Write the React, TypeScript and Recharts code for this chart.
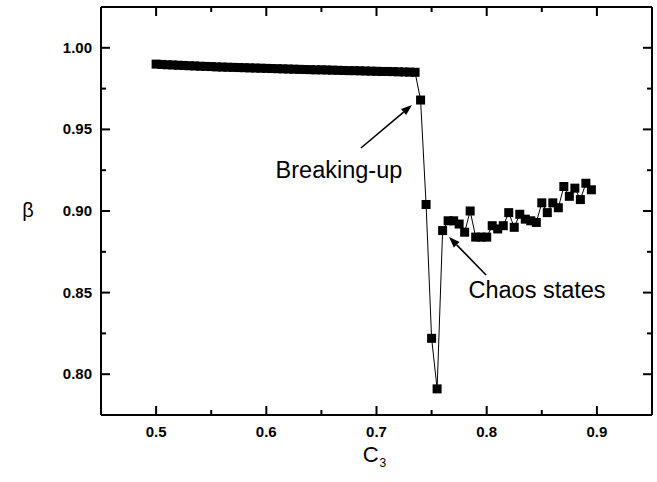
import React from 'react';
import { LineChart, Line, XAxis, YAxis, ReferenceLine } from 'recharts';

// Control parameter C3 and the measured order parameter beta
const C3_VALUES = [
  0.500, 0.505, 0.510, 0.515, 0.520, 0.525, 0.530, 0.535, 0.540, 0.545,
  0.550, 0.555, 0.560, 0.565, 0.570, 0.575, 0.580, 0.585, 0.590, 0.595,
  0.600, 0.605, 0.610, 0.615, 0.620, 0.625, 0.630, 0.635, 0.640, 0.645,
  0.650, 0.655, 0.660, 0.665, 0.670, 0.675, 0.680, 0.685, 0.690, 0.695,
  0.700, 0.705, 0.710, 0.715, 0.720, 0.725, 0.730, 0.735, 0.740, 0.745,
  0.750, 0.755, 0.760, 0.765, 0.770, 0.775, 0.780, 0.785, 0.790, 0.795,
  0.800, 0.805, 0.810, 0.815, 0.820, 0.825, 0.830, 0.835, 0.840, 0.845,
  0.850, 0.855, 0.860, 0.865, 0.870, 0.875, 0.880, 0.885, 0.890, 0.895,
];

const BETA_VALUES = [
  0.9900, 0.9898, 0.9896, 0.9895, 0.9893, 0.9892, 0.9890, 0.9889, 0.9887, 0.9886,
  0.9885, 0.9883, 0.9882, 0.9881, 0.9880, 0.9879, 0.9878, 0.9877, 0.9876, 0.9875,
  0.9874, 0.9873, 0.9872, 0.9871, 0.9870, 0.9869, 0.9868, 0.9867, 0.9866, 0.9865,
  0.9865, 0.9864, 0.9863, 0.9862, 0.9861, 0.9860, 0.9860, 0.9859, 0.9858, 0.9857,
  0.9856, 0.9855, 0.9855, 0.9854, 0.9853, 0.9852, 0.9851, 0.9850, 0.968, 0.904,
  0.822, 0.791, 0.888, 0.894, 0.894, 0.892, 0.887, 0.900, 0.884, 0.884,
  0.884, 0.891, 0.889, 0.891, 0.899, 0.890, 0.898, 0.895, 0.894, 0.893,
  0.905, 0.899, 0.905, 0.902, 0.915, 0.909, 0.914, 0.907, 0.917, 0.913,
];

const X_MAJOR_TICKS = [0.5, 0.6, 0.7, 0.8, 0.9];
const X_MINOR_TICKS = [0.55, 0.65, 0.75, 0.85];
const Y_MAJOR_TICKS = [0.8, 0.85, 0.9, 0.95, 1.0];
const Y_MINOR_TICKS = [0.825, 0.875, 0.925, 0.975];
const X_DOMAIN: [number, number] = [0.45, 0.95];
const Y_DOMAIN: [number, number] = [0.775, 1.025];

// Annotation arrows: tail and head in data coordinates
const BREAKUP_ARROW = [{ x: 0.6859, y: 0.9386 }, { x: 0.7322, y: 0.965 }];
const CHAOS_ARROW = [{ x: 0.7994, y: 0.8608 }, { x: 0.7658, y: 0.8841 }];

const data = C3_VALUES.map((c, i) => ({ c3: c, beta: BETA_VALUES[i] }));

const W = 657;
const H = 482;
const AXIS_THICK = 1;
const PLOT_TOP = 7;
const PLOT_BOTTOM = 415;
const PLOT_LEFT = 101;
const PLOT_RIGHT = 652;
const MARGIN = {
  top: PLOT_TOP - AXIS_THICK,
  right: W - PLOT_RIGHT - AXIS_THICK,
  bottom: H - PLOT_BOTTOM - AXIS_THICK,
  left: PLOT_LEFT - AXIS_THICK,
};
const MAJOR_LEN = 9;
const MINOR_LEN = 5;
const MARKER = 9;
const FONT = 'Arial, "Liberation Sans", Helvetica, sans-serif';

const inList = (v: number, list: number[]) => list.some((t) => Math.abs(t - v) < 1e-9);

const BottomTick = (props: any) => {
  const { x, payload } = props;
  const major = inList(payload.value, X_MAJOR_TICKS);
  const len = major ? MAJOR_LEN : MINOR_LEN;
  return (
    <g>
      <line x1={x} x2={x} y1={PLOT_BOTTOM} y2={PLOT_BOTTOM - len} stroke="#000" strokeWidth={2} />
      {major && (
        <text x={x} y={PLOT_BOTTOM + 22} textAnchor="middle" fontSize={15} fontWeight="bold" fontFamily={FONT} fill="#000">
          {payload.value.toFixed(1)}
        </text>
      )}
    </g>
  );
};

const TopTick = (props: any) => {
  const { x, payload } = props;
  const len = inList(payload.value, X_MAJOR_TICKS) ? MAJOR_LEN : MINOR_LEN;
  return <line x1={x} x2={x} y1={PLOT_TOP} y2={PLOT_TOP + len} stroke="#000" strokeWidth={2} />;
};

const LeftTick = (props: any) => {
  const { y, payload } = props;
  const major = inList(payload.value, Y_MAJOR_TICKS);
  const len = major ? MAJOR_LEN : MINOR_LEN;
  return (
    <g>
      <line x1={PLOT_LEFT} x2={PLOT_LEFT + len} y1={y} y2={y} stroke="#000" strokeWidth={2} />
      {major && (
        <text x={PLOT_LEFT - 9} y={y + 5} textAnchor="end" fontSize={15} fontWeight="bold" fontFamily={FONT} fill="#000">
          {payload.value.toFixed(2)}
        </text>
      )}
    </g>
  );
};

const RightTick = (props: any) => {
  const { y, payload } = props;
  const len = inList(payload.value, Y_MAJOR_TICKS) ? MAJOR_LEN : MINOR_LEN;
  return <line x1={PLOT_RIGHT} x2={PLOT_RIGHT - len} y1={y} y2={y} stroke="#000" strokeWidth={2} />;
};

const SquareDot = (props: any) => {
  const { cx, cy, index } = props;
  if (cx == null || cy == null) return <g key={index} />;
  return <rect key={index} x={cx - MARKER / 2} y={cy - MARKER / 2} width={MARKER} height={MARKER} fill="#000" />;
};

const makeArrow = (label: string, dx: number, dy: number) => (props: any) => {
  const { x1, y1, x2, y2 } = props;
  const ang = Math.atan2(y2 - y1, x2 - x1);
  const headLen = 11;
  const halfW = 4;
  const bx = x2 - headLen * Math.cos(ang);
  const by = y2 - headLen * Math.sin(ang);
  const px = -Math.sin(ang) * halfW;
  const py = Math.cos(ang) * halfW;
  return (
    <g>
      <line x1={x1} y1={y1} x2={bx} y2={by} stroke="#000" strokeWidth={1.6} />
      <polygon points={`${x2},${y2} ${bx + px},${by + py} ${bx - px},${by - py}`} fill="#000" />
      <text x={x1 + dx} y={y1 + dy} textAnchor="middle" fontSize={23.5} fontFamily={FONT} fill="#000">
        {label}
      </text>
    </g>
  );
};

const XTitle = () => {
  const cx = (PLOT_LEFT + PLOT_RIGHT) / 2;
  return (
    <text x={cx - 2} y={PLOT_BOTTOM + 47} textAnchor="middle" fontSize={22} fontFamily={FONT} fill="#000">
      C
      <tspan fontSize={12} dx={1} dy={5}>3</tspan>
    </text>
  );
};

const YTitle = () => (
  <text x={28} y={(PLOT_TOP + PLOT_BOTTOM) / 2 + 6} textAnchor="middle" fontSize={20} fontFamily={FONT} fill="#000">
    β
  </text>
);

export default function App() {
  return (
    <div style={{ position: 'absolute', left: 0, top: 0, width: W, height: H, background: '#fff' }}>
      <LineChart width={W} height={H} data={data} margin={MARGIN}>
        <XAxis
          dataKey="c3"
          type="number"
          domain={X_DOMAIN}
          allowDataOverflow
          ticks={[...X_MAJOR_TICKS, ...X_MINOR_TICKS]}
          interval={0}
          height={AXIS_THICK}
          tickSize={0}
          tickMargin={0}
          tickLine={false}
          axisLine={{ stroke: '#000', strokeWidth: 2 }}
          tick={<BottomTick />}
          label={<XTitle />}
        />
        <XAxis
          xAxisId="top"
          orientation="top"
          dataKey="c3"
          type="number"
          domain={X_DOMAIN}
          allowDataOverflow
          ticks={[...X_MAJOR_TICKS, ...X_MINOR_TICKS]}
          interval={0}
          height={AXIS_THICK}
          tickSize={0}
          tickMargin={0}
          tickLine={false}
          axisLine={{ stroke: '#000', strokeWidth: 2 }}
          tick={<TopTick />}
        />
        <YAxis
          type="number"
          domain={Y_DOMAIN}
          allowDataOverflow
          ticks={[...Y_MAJOR_TICKS, ...Y_MINOR_TICKS]}
          interval={0}
          width={AXIS_THICK}
          tickSize={0}
          tickMargin={0}
          tickLine={false}
          axisLine={{ stroke: '#000', strokeWidth: 2 }}
          tick={<LeftTick />}
          label={<YTitle />}
        />
        <YAxis
          yAxisId="right"
          orientation="right"
          type="number"
          domain={Y_DOMAIN}
          allowDataOverflow
          ticks={[...Y_MAJOR_TICKS, ...Y_MINOR_TICKS]}
          interval={0}
          width={AXIS_THICK}
          tickSize={0}
          tickMargin={0}
          tickLine={false}
          axisLine={{ stroke: '#000', strokeWidth: 2 }}
          tick={<RightTick />}
        />
        <Line
          dataKey="beta"
          stroke="#000"
          strokeWidth={1}
          dot={SquareDot}
          activeDot={false}
          isAnimationActive={false}
        />
        <ReferenceLine
          segment={BREAKUP_ARROW}
          ifOverflow="visible"
          shape={makeArrow('Breaking-up', -22, 30)}
        />
        <ReferenceLine
          segment={CHAOS_ARROW}
          ifOverflow="visible"
          shape={makeArrow('Chaos states', 51, 23)}
        />
      </LineChart>
    </div>
  );
}
